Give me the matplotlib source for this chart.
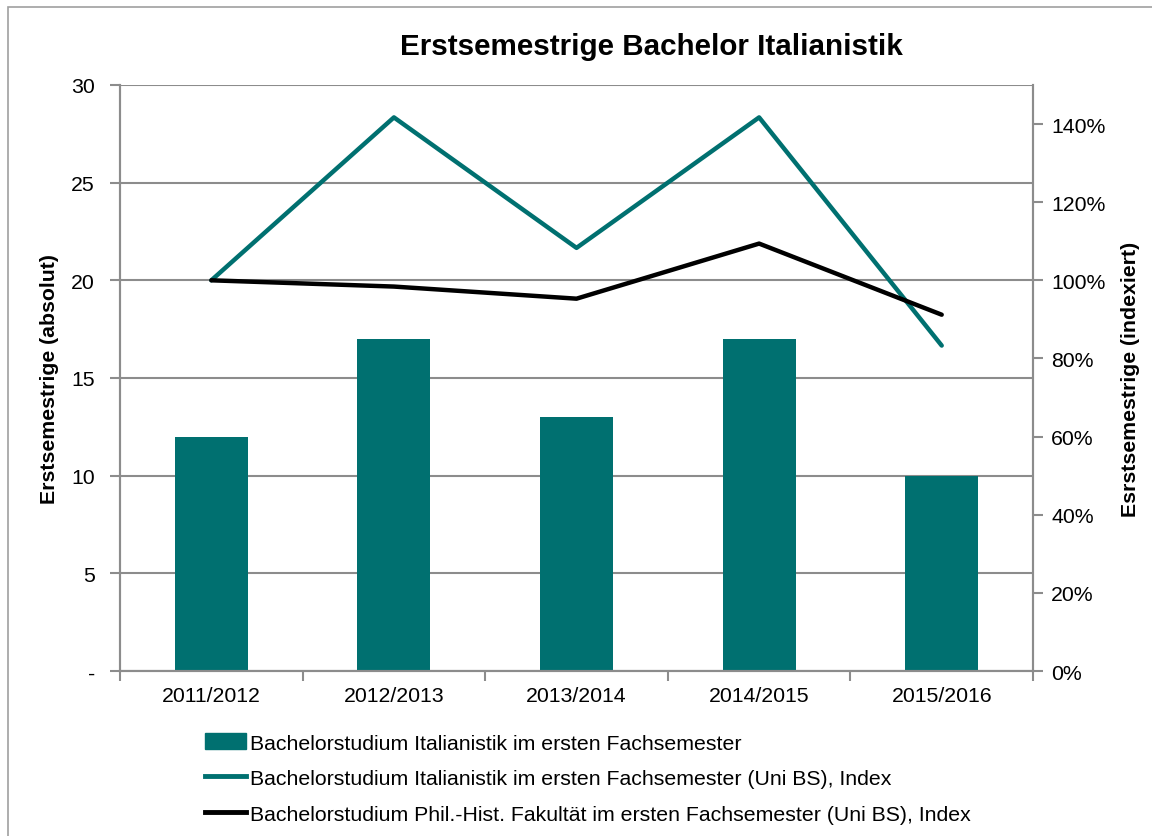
import matplotlib
matplotlib.use("Agg")
import matplotlib.pyplot as plt
from matplotlib.patches import Patch, Rectangle
from matplotlib.lines import Line2D
from matplotlib.ticker import FuncFormatter, FixedLocator

plt.rcParams['font.family'] = ['Liberation Sans', 'DejaVu Sans']

# data
semesters = ["2011/2012", "2012/2013", "2013/2014", "2014/2015", "2015/2016"]
erstsemestrige = [12, 17, 13, 17, 10]
index_italianistik = [1.00, 1.417, 1.083, 1.417, 0.833]
index_philhist = [1.00, 0.984, 0.953, 1.094, 0.912]

labels = [
    "Bachelorstudium Italianistik im ersten Fachsemester",
    "Bachelorstudium Italianistik im ersten Fachsemester (Uni BS), Index",
    "Bachelorstudium Phil.-Hist. Fakultät im ersten Fachsemester (Uni BS), Index",
]

TEAL = "#007070"
GRID = "#8c8c8c"
FS = 15.3

fig = plt.figure(figsize=(11.52, 8.37), dpi=100)
ax1 = fig.add_axes([0.1042, 0.1971, 0.7925, 0.7002])
ax2 = ax1.twinx()

x = list(range(len(semesters)))

# --- bars on left axis ---
ax1.bar(x, erstsemestrige, width=0.4, color=TEAL, zorder=2)
ax1.set_xlim(-0.5, len(semesters) - 0.5)
ax1.set_ylim(0, 30)
ax1.set_yticks([0, 5, 10, 15, 20, 25, 30])
ax1.set_yticklabels(["-", "5", "10", "15", "20", "25", "30"])
ax1.yaxis.grid(True, color=GRID, linewidth=1.5, zorder=0)
ax1.set_axisbelow(True)
ax1.set_xticks(x)
ax1.set_xticklabels(semesters)
ax1.xaxis.set_minor_locator(FixedLocator([i - 0.5 for i in range(len(semesters) + 1)]))
ax1.tick_params(axis='x', which='major', length=0, pad=11, labelsize=FS)
ax1.tick_params(axis='x', which='minor', length=7, width=1.5, color=GRID)
ax1.tick_params(axis='y', length=7, width=1.5, color=GRID, pad=11, labelsize=FS)
ax1.set_ylabel("Erstsemestrige (absolut)", fontsize=FS, fontweight='bold', labelpad=9)

# --- index lines on right axis ---
ax2.plot(x, index_italianistik, color=TEAL, linewidth=3.2, solid_capstyle='round', zorder=3)
ax2.plot(x, index_philhist, color='black', linewidth=3.2, solid_capstyle='round', zorder=3)
ax2.set_ylim(0, 1.5)
ax2.set_yticks([0, 0.2, 0.4, 0.6, 0.8, 1.0, 1.2, 1.4])
ax2.yaxis.set_major_formatter(FuncFormatter(lambda v, p: f"{v * 100:.0f}%"))
ax2.tick_params(axis='y', length=7, width=1.5, color=GRID, pad=6, labelsize=FS)
ax2.set_ylabel("Esrstsemestrige (indexiert)", fontsize=FS, fontweight='bold', labelpad=11)

for a in (ax1, ax2):
    for side in ("left", "right", "bottom", "top"):
        a.spines[side].set_color(GRID)
        a.spines[side].set_linewidth(1.5)
    a.spines["top"].set_visible(False)

ax1.set_title("Erstsemestrige Bachelor Italianistik", fontsize=21.3,
              fontweight='bold', pad=22, x=0.582)

# legend below the plot
handles = [
    Patch(facecolor=TEAL, edgecolor=TEAL),
    Line2D([], [], color=TEAL, linewidth=3.5),
    Line2D([], [], color='black', linewidth=3.5),
]
fig.legend(handles, labels, loc='upper left', bbox_to_anchor=(0.171, 0.133),
           frameon=False, fontsize=FS, handlelength=1.9, handleheight=0.8,
           handletextpad=0.2, labelspacing=0.75, borderaxespad=0)

# chart frame
fig.patches.append(Rectangle((0.0069, -0.05), 1.2, 1.0404, transform=fig.transFigure,
                             fill=False, edgecolor="#a0a0a0", linewidth=1.2))

fig.savefig("out.png", dpi=100)
